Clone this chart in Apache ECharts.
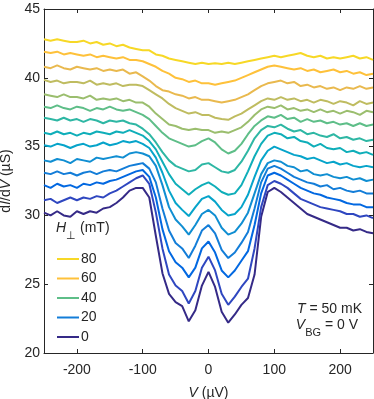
<!DOCTYPE html>
<html>
<head>
<meta charset="utf-8">
<script src="https://cdn.jsdelivr.net/npm/echarts@6/dist/echarts.min.js"></script>
<style>
  html, body { margin: 0; padding: 0; background: #fff; }
  #chart { width: 374px; height: 399px; }
</style>
</head>
<body>
<div id="chart"></div>
<script>
  // bias voltage V (µV)
  const bias = [-250, -240, -230, -220, -210, -200, -190, -180, -170, -160,
    -150, -140, -130, -120, -110, -100, -90, -80, -70, -60,
    -50, -40, -30, -20, -10, 0, 10, 20, 30, 40,
    50, 60, 70, 80, 90, 100, 110, 120, 130, 140,
    150, 160, 170, 180, 190, 200, 210, 220, 230, 240, 250]

  // dI/dV (µS), one curve per perpendicular field, bottom (0 mT) to top (80 mT)
  const c0 = [30.2, 30.0, 30.3, 30.0, 29.9, 30.3, 30.1, 30.3, 30.2, 30.5, 30.6, 30.9, 31.3, 31.8, 32.0, 32.0, 31.3, 28.5, 25.8, 24.3, 23.7, 23.4, 22.3, 23.1, 24.9, 25.9, 24.8, 23.0, 22.2, 22.8, 23.5, 24.0, 25.7, 29.9, 31.7, 32.0, 31.7, 31.3, 30.9, 30.5, 30.1, 29.9, 29.7, 29.5, 29.3, 29.1, 29.1, 28.9, 29.0, 28.8, 28.7]
  const c1 = [31.1, 31.2, 30.9, 31.1, 31.3, 31.1, 31.3, 31.2, 31.4, 31.3, 31.6, 31.8, 32.1, 32.4, 32.7, 32.9, 32.3, 30.2, 27.6, 25.7, 24.9, 24.5, 23.6, 24.5, 26.2, 27.0, 26.0, 24.3, 23.5, 24.1, 24.8, 25.4, 27.6, 30.6, 32.2, 32.5, 32.3, 32.0, 31.6, 31.2, 31.0, 30.8, 30.6, 30.5, 30.4, 30.3, 30.1, 30.1, 29.9, 30.0, 29.8]
  const c2 = [32.2, 32.0, 32.3, 32.1, 32.2, 32.0, 32.3, 32.2, 32.4, 32.3, 32.5, 32.6, 32.8, 33.0, 33.2, 33.3, 32.8, 31.3, 29.0, 27.4, 26.6, 26.2, 25.5, 26.2, 27.6, 28.1, 27.3, 26.0, 25.5, 26.0, 26.7, 27.4, 29.3, 31.6, 32.9, 33.1, 32.9, 32.6, 32.3, 32.0, 31.8, 31.6, 31.5, 31.3, 31.2, 31.1, 30.9, 30.8, 30.8, 30.6, 30.6]
  const c3 = [33.1, 33.0, 33.2, 33.0, 33.1, 32.9, 33.1, 33.2, 33.0, 33.2, 33.3, 33.2, 33.4, 33.6, 33.7, 33.8, 33.4, 32.4, 30.5, 28.9, 28.0, 27.6, 26.9, 27.8, 28.9, 29.3, 28.7, 27.5, 26.9, 27.3, 28.0, 28.8, 30.5, 32.4, 33.4, 33.6, 33.4, 33.1, 32.8, 32.6, 32.4, 32.3, 32.1, 32.2, 31.9, 32.0, 31.8, 31.7, 31.8, 31.6, 31.6]
  const c4 = [34.0, 33.9, 34.1, 34.0, 33.8, 34.1, 34.0, 33.9, 34.2, 34.1, 34.2, 34.3, 34.2, 34.5, 34.6, 34.5, 34.3, 33.6, 32.2, 30.6, 29.7, 29.2, 28.6, 29.3, 30.1, 30.4, 30.0, 29.1, 28.6, 28.8, 29.4, 30.2, 31.6, 33.0, 33.8, 34.0, 33.9, 33.6, 33.5, 33.2, 33.3, 33.0, 32.9, 33.0, 32.8, 32.7, 32.8, 32.6, 32.7, 32.5, 32.6]
  const c5 = [35.1, 35.0, 35.2, 35.1, 34.9, 35.1, 35.2, 35.0, 35.1, 35.3, 35.1, 35.2, 35.4, 35.3, 35.4, 35.2, 34.9, 34.2, 33.1, 31.8, 30.9, 30.4, 29.95, 30.6, 31.2, 31.4, 31.0, 30.4, 30.0, 30.1, 30.6, 31.5, 32.8, 34.0, 34.7, 35.0, 34.8, 34.6, 34.4, 34.3, 34.1, 34.2, 34.0, 33.8, 33.9, 33.7, 33.8, 33.6, 33.5, 33.6, 33.5]
  const c6 = [36.0, 35.9, 36.1, 35.9, 36.0, 35.8, 36.0, 35.9, 36.1, 36.0, 35.9, 36.1, 36.0, 36.2, 36.0, 35.8, 35.4, 34.8, 33.9, 33.0, 32.3, 31.9, 31.5, 31.9, 32.2, 32.4, 32.1, 31.7, 31.5, 31.6, 32.2, 33.2, 34.3, 35.2, 35.8, 36.0, 35.9, 35.6, 35.7, 35.4, 35.3, 35.0, 35.2, 34.9, 34.8, 34.9, 34.6, 34.7, 34.5, 34.6, 34.4]
  const c7 = [37.1, 37.0, 36.9, 37.1, 36.9, 37.0, 36.8, 37.0, 36.9, 36.7, 36.9, 36.8, 36.9, 36.7, 36.6, 36.3, 35.9, 35.3, 34.6, 34.0, 33.6, 33.4, 33.2, 33.3, 33.7, 33.8, 33.5, 33.2, 33.1, 33.3, 33.9, 34.7, 35.6, 36.2, 36.5, 36.4, 36.6, 36.3, 36.1, 36.2, 35.9, 36.0, 35.8, 35.7, 35.9, 35.6, 35.7, 35.5, 35.6, 35.4, 35.5]
  const c8 = [37.9, 37.8, 38.0, 37.8, 37.7, 37.9, 37.8, 37.6, 37.8, 37.7, 37.9, 37.7, 37.6, 37.7, 37.5, 37.3, 37.0, 36.5, 36.0, 35.6, 35.4, 35.2, 35.0, 35.1, 35.4, 35.6, 35.3, 34.8, 34.5, 34.7, 35.2, 35.9, 36.5, 36.9, 37.2, 37.1, 37.3, 37.0, 37.1, 36.8, 37.0, 36.8, 36.9, 36.7, 36.8, 36.6, 36.7, 36.5, 36.7, 36.5, 36.6]
  const c9 = [38.8, 38.7, 38.6, 38.8, 38.6, 38.6, 38.5, 38.7, 38.4, 38.5, 38.4, 38.5, 38.3, 38.4, 38.2, 38.2, 37.9, 37.4, 37.0, 36.6, 36.5, 36.3, 36.2, 36.3, 36.2, 36.2, 36.0, 36.1, 36.0, 36.2, 36.4, 36.8, 37.3, 37.7, 37.9, 37.8, 38.0, 37.7, 37.8, 37.6, 37.7, 37.5, 37.7, 37.5, 37.6, 37.4, 37.6, 37.5, 37.3, 37.6, 37.5]
  const c10 = [39.85, 39.7, 39.8, 39.6, 39.7, 39.7, 39.6, 39.8, 39.5, 39.6, 39.5, 39.6, 39.4, 39.5, 39.5, 39.4, 39.1, 38.8, 38.5, 38.1, 37.8, 37.6, 37.4, 37.5, 37.3, 37.3, 37.1, 37.0, 36.95, 37.2, 37.4, 37.7, 38.0, 38.3, 38.5, 38.4, 38.6, 38.4, 38.5, 38.3, 38.4, 38.2, 38.4, 38.3, 38.1, 38.3, 38.2, 38.0, 38.3, 38.1, 38.2]
  const c11 = [40.8, 40.7, 40.9, 40.7, 40.6, 40.8, 40.7, 40.6, 40.7, 40.5, 40.6, 40.5, 40.6, 40.3, 40.4, 40.1, 39.8, 39.4, 39.1, 39.0, 38.8, 38.7, 38.5, 38.6, 38.4, 38.4, 38.3, 38.2, 38.3, 38.4, 38.6, 38.8, 39.1, 39.4, 39.6, 39.7, 39.8, 39.6, 39.7, 39.4, 39.5, 39.3, 39.4, 39.2, 39.3, 39.1, 39.3, 39.2, 39.4, 39.2, 39.3]
  const c12 = [41.9, 41.8, 41.9, 41.7, 41.8, 41.7, 41.6, 41.7, 41.5, 41.6, 41.5, 41.4, 41.5, 41.3, 41.3, 41.2, 41.0, 40.8, 40.5, 40.3, 40.0, 39.9, 39.7, 39.8, 39.6, 39.6, 39.5, 39.6, 39.7, 39.8, 40.0, 40.2, 40.4, 40.6, 40.8, 40.9, 40.8, 40.7, 40.6, 40.7, 40.5, 40.6, 40.4, 40.5, 40.6, 40.4, 40.5, 40.3, 40.4, 40.2, 40.3]
  const c13 = [42.8, 42.7, 42.8, 42.7, 42.6, 42.6, 42.7, 42.5, 42.6, 42.4, 42.5, 42.3, 42.4, 42.2, 42.1, 42.0, 42.0, 41.7, 41.6, 41.4, 41.3, 41.2, 41.1, 41.0, 41.1, 41.0, 41.05, 41.0, 41.1, 41.0, 41.1, 41.2, 41.3, 41.4, 41.5, 41.6, 41.5, 41.6, 41.7, 41.8, 41.6, 41.5, 41.6, 41.4, 41.5, 41.4, 41.5, 41.6, 41.4, 41.5, 41.3]

  const curves = [c0, c1, c2, c3, c4, c5, c6, c7, c8, c9, c10, c11, c12, c13]
  // field labels (mT) for each curve, only some show in the legend
  const fields = ['0', '5', '10', '20', '25', '30', '35', '38', '40', '45', '50', '55', '60', '80']
  const legendFields = ['80', '60', '40', '20', '0']
  const xTicks = [-200, -100, 0, 100, 200]

  const colors = ['#352a87', '#2f47c0', '#0268e1', '#137dd8', '#108ed2', '#06a4ca', '#0faeb9',
    '#2eb7a4', '#5ebe88', '#9bbe6e', '#bfbc60', '#e9b94e', '#fec13a', '#f7d826']

  const FONT = 'Liberation Sans, Arial, Helvetica, sans-serif'
  const INK = '#262626'

  const chart = echarts.init(document.getElementById('chart'), null, { renderer: 'canvas' })

  const axisLine = { show: true, onZero: false, lineStyle: { color: INK, width: 1 } }
  const tick = { show: true, inside: true, length: 4, lineStyle: { color: INK, width: 1 } }
  const italic = { fontStyle: 'italic', fontSize: 14, color: INK, fontFamily: FONT }

  chart.setOption({
    animation: false,
    backgroundColor: '#fff',
    grid: { left: 44, right: 1, top: 9, bottom: 46, containLabel: false, outerBoundsMode: 'none' },
    xAxis: [
      {
        type: 'value', min: -250, max: 250, position: 'bottom',
        axisLine: axisLine,
        axisTick: Object.assign({}, tick, { customValues: xTicks }),
        splitLine: { show: false },
        axisLabel: { customValues: xTicks, margin: 10, fontSize: 14, color: INK, fontFamily: FONT },
        name: '{i|V} (µV)',
        nameLocation: 'middle',
        nameGap: 33,
        nameTextStyle: { fontSize: 14, color: INK, fontFamily: FONT, rich: { i: italic } }
      },
      {
        type: 'value', min: -250, max: 250, position: 'top',
        axisLine: axisLine,
        axisTick: Object.assign({}, tick, { customValues: xTicks }),
        splitLine: { show: false },
        axisLabel: { show: false }
      }
    ],
    yAxis: [
      {
        type: 'value', min: 20, max: 45, interval: 5, position: 'left',
        axisLine: axisLine,
        axisTick: tick,
        splitLine: { show: false },
        axisLabel: { margin: 4, fontSize: 14, color: INK, fontFamily: FONT },
        name: 'd{i|I}/d{i|V} (µS)',
        nameLocation: 'middle',
        nameRotate: 90,
        nameGap: 20,
        nameTextStyle: { fontSize: 14, color: INK, fontFamily: FONT, rich: { i: italic } }
      },
      {
        type: 'value', min: 20, max: 45, interval: 5, position: 'right',
        axisLine: axisLine,
        axisTick: tick,
        splitLine: { show: false },
        axisLabel: { show: false }
      }
    ],
    legend: {
      data: legendFields,
      orient: 'vertical',
      left: 57,
      top: 251,
      padding: 0,
      icon: 'rect',
      itemWidth: 22,
      itemHeight: 2,
      itemGap: 3.5,
      textStyle: { fontSize: 14, lineHeight: 16, color: INK, fontFamily: FONT, padding: [0, 0, 0, -3] },
      selectedMode: false
    },
    graphic: [
      {
        type: 'text', left: 56, top: 221,
        style: {
          text: '{i|H}{s|⊥}{n| (mT)}',
          rich: {
            i: { fontStyle: 'italic', fontSize: 14, fill: INK, fontFamily: FONT, lineHeight: 26, verticalAlign: 'middle' },
            s: { fontSize: 11, fill: INK, fontFamily: FONT, lineHeight: 11, verticalAlign: 'bottom' },
            n: { fontSize: 14, fill: INK, fontFamily: FONT, lineHeight: 26, verticalAlign: 'middle' }
          }
        }
      },
      {
        type: 'text', right: 12, top: 302,
        style: {
          text: '{i|T}{n| = 50 mK}',
          rich: {
            i: { fontStyle: 'italic', fontSize: 14, fill: INK, fontFamily: FONT },
            n: { fontSize: 14, fill: INK, fontFamily: FONT }
          }
        }
      },
      {
        type: 'text', right: 16, top: 318,
        style: {
          text: '{i|V}{s|BG}{n| = 0 V}',
          rich: {
            i: { fontStyle: 'italic', fontSize: 14, fill: INK, fontFamily: FONT, lineHeight: 26, verticalAlign: 'middle' },
            s: { fontSize: 11, fill: INK, fontFamily: FONT, lineHeight: 11, verticalAlign: 'bottom' },
            n: { fontSize: 14, fill: INK, fontFamily: FONT, lineHeight: 26, verticalAlign: 'middle' }
          }
        }
      }
    ],
    series: curves.map((d, k) => ({
      name: fields[k],
      type: 'line',
      xAxisIndex: 0,
      yAxisIndex: 0,
      data: bias.map((v, i) => [v, d[i]]),
      symbol: 'none',
      showSymbol: false,
      clip: true,
      lineStyle: { color: colors[k], width: 2 },
      itemStyle: { color: colors[k] },
      z: 2
    }))
  })
</script>
</body>
</html>
